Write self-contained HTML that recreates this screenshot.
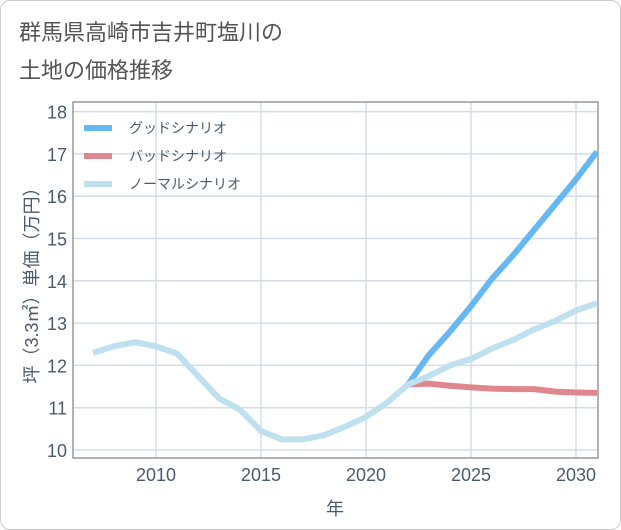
<!DOCTYPE html>
<html><head><meta charset="utf-8"><style>
body{margin:0;background:#fff;font-family:"Liberation Sans","Noto Sans CJK JP",sans-serif}
#wrap{position:relative;width:619px;height:528px;border:1px solid #ccc;border-radius:10px;overflow:hidden}
.t{position:absolute;left:18px;color:#555;font-size:22px}
</style></head><body>
<div id="wrap">
<div class="t" style="top:14px">群馬県高崎市吉井町塩川の</div>
<div class="t" style="top:52px">土地の価格推移</div>
<svg id="c" width="621" height="530" style="position:absolute;left:0;top:0"></svg>
</div>
<script>
const years=[2007,2008,2009,2010,2011,2012,2013,2014,2015,2016,2017,2018,2019,2020,2021,2022,2023,2024,2025,2026,2027,2028,2029,2030,2031];
const normal=[12.3,12.45,12.55,12.45,12.28,11.75,11.22,10.95,10.45,10.25,10.25,10.35,10.55,10.78,11.12,11.55,11.75,12.0,12.15,12.4,12.6,12.85,13.05,13.3,13.47];
const goodYears=[2022,2023,2024,2025,2026,2027,2028,2029,2030,2031];
const good=[11.55,12.25,12.8,13.4,14.05,14.6,15.2,15.8,16.4,17.05];
const bad=[11.55,11.57,11.52,11.48,11.45,11.44,11.44,11.38,11.36,11.35];
const yTicks=[10,11,12,13,14,15,16,17,18];
const xTicks=[2010,2015,2020,2025,2030];
const L=72,R=597,T=101,B=457;
const x=v=>470+(v-2025)*21;
const y=v=>449-(v-10)*42.3;
const s=document.getElementById('c'),NS='http://www.w3.org/2000/svg';
function el(t,a,p){const e=document.createElementNS(NS,t);for(const k in a)e.setAttribute(k,a[k]);(p||s).appendChild(e);return e;}
yTicks.forEach(v=>{const g=el('line',{x1:L,x2:R,y1:y(v),y2:y(v),stroke:'#d3dde8','stroke-width':1.5});

const t=el('text',{x:L-6,y:y(v)+7,'text-anchor':'end','font-size':18,fill:'#4a5a6e'});t.textContent=v;
});
xTicks.forEach(v=>{const g=el('line',{x1:x(v),x2:x(v),y1:T,y2:B,stroke:'#d3dde8','stroke-width':1.5});

const t=el('text',{x:x(v),y:B+23,'text-anchor':'middle','font-size':18,fill:'#4a5a6e'});t.textContent=v;
});
const f=el('rect',{x:L,y:T,width:R-L,height:B-T,fill:'none',stroke:'#999','stroke-width':1.5});

const clip=el('clipPath',{id:'cp'});el('rect',{x:L,y:T,width:R-L,height:B-T},clip);
function line(xs,vs,c,n){const p=el('polyline',{points:xs.map((d,i)=>x(d)+','+y(vs[i])).join(' '),fill:'none',stroke:c,'stroke-width':6,'stroke-linejoin':'round','clip-path':'url(#cp)'});
}
line(goodYears,bad,'#e0868f','bad-scenario-line');
line(goodYears,good,'#66b8f2','good-scenario-line');
line(years,normal,'#bfe0ee','normal-scenario-line');
const leg=[['グッドシナリオ','#66b8f2',127],['バッドシナリオ','#e0868f',155],['ノーマルシナリオ','#bfe0ee',183]];
leg.forEach(l=>{const g=el('g',{});
el('line',{x1:83,x2:111,y1:l[2],y2:l[2],stroke:l[1],'stroke-width':6},g);
const t=el('text',{x:128,y:l[2]+5,'font-size':14,fill:'#4a5a6e'},g);t.textContent=l[0];});
const yt=el('text',{x:0,y:0,transform:'translate(37,280) rotate(-90)','text-anchor':'middle','font-size':18,fill:'#4a5a6e'});yt.textContent='坪（3.3㎡）単価（万円）';

const xt=el('text',{x:334,y:514,'text-anchor':'middle','font-size':18,fill:'#4a5a6e'});xt.textContent='年';

</script>
</body></html>
